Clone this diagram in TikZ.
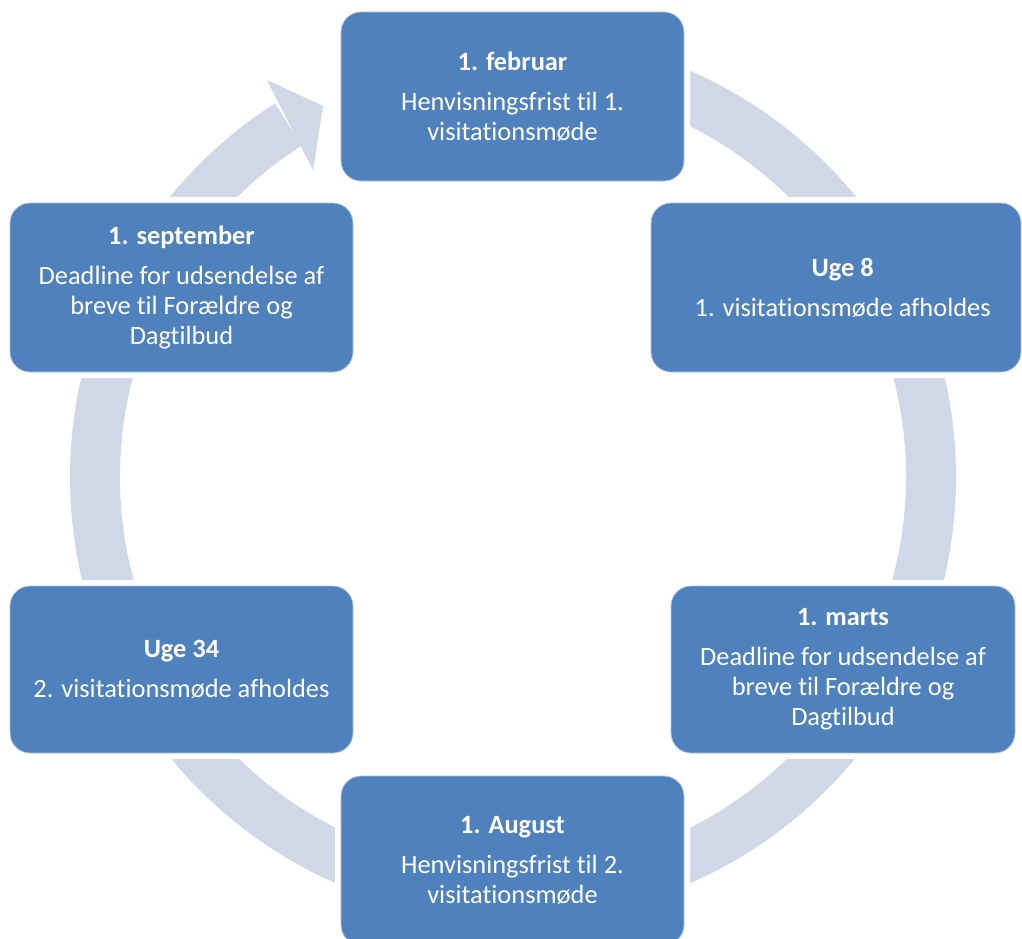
\documentclass[tikz,border=0pt]{standalone}
\usepackage{fontspec}
\setmainfont[Ligatures=NoCommon]{Carlito}
\definecolor{boxblue}{HTML}{4F81BD}
\definecolor{ringblue}{HTML}{D0D8E8}
\begin{document}
\begin{tikzpicture}[x=0.75pt,y=-0.75pt,
  boxtext/.style={text=white, align=center,
    font=\fontsize{19.8}{22.5}\selectfont, inner sep=0pt},
  stepbox/.style={boxtext, fill=boxblue, draw=white!55!boxblue, line width=0.6pt,
    rounded corners=15pt,
    preaction={draw=white, line width=9pt}},
  ring/.style={fill=ringblue}]
\useasboundingbox (0,0) rectangle (1022,939);
\clip (0,0) rectangle (1022,939);
\coordinate (c) at (513,477);
\begin{scope}[shift={(c)}, x=0.75pt, y=0.75pt]
  \fill[ring] (90:443) arc[start angle=90, end angle=-237.5, radius=443]
    -- (-237.5:393) arc[start angle=-237.5, end angle=90, radius=393] -- cycle;
  \fill[ring] (121.8:467) -- (117.1:417) -- (123.1:366) -- cycle;
\end{scope}
\node[stepbox, minimum width=257.25pt, minimum height=126.75pt] (feb) at (512.5,96.5)
  {\textbf{1. februar}\\[7.5pt]Henvisningsfrist til 1.\\visitationsmøde};
\node[stepbox, minimum width=277.5pt, minimum height=126.75pt] (uge8) at (836,287.5) {};
\node[boxtext] (uge8text) at ([xshift=5pt]uge8.center)
  {\textbf{Uge 8}\\[7.5pt]1. visitationsmøde afholdes};
\node[stepbox, minimum width=258pt, minimum height=125.25pt] (marts) at (843,669.5)
  {\textbf{1. marts}\\[7.5pt]Deadline for udsendelse af\\breve til Forældre og\\Dagtilbud};
\node[stepbox, minimum width=257.25pt, minimum height=126.75pt] (aug) at (512.5,860.5)
  {\textbf{1. August}\\[7.5pt]Henvisningsfrist til 2.\\visitationsmøde};
\node[stepbox, minimum width=257.25pt, minimum height=125.25pt] (uge34) at (181.5,669.5)
  {\textbf{Uge 34}\\[7.5pt]2. visitationsmøde afholdes};
\node[stepbox, minimum width=257.25pt, minimum height=126.75pt] (sep) at (181.5,287.5)
  {\textbf{1. september}\\[7.5pt]Deadline for udsendelse af\\breve til Forældre og\\Dagtilbud};
\end{tikzpicture}
\end{document}
